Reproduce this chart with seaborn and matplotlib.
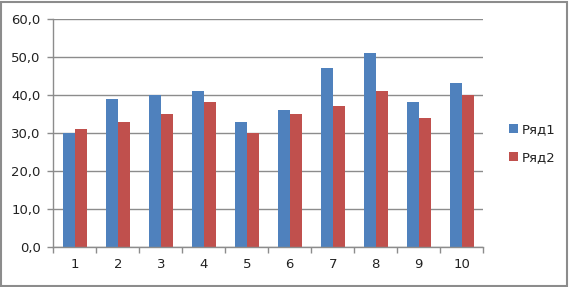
import matplotlib
matplotlib.use("Agg")
import matplotlib.pyplot as plt
import seaborn as sns
import pandas as pd
from matplotlib.patches import Rectangle
from matplotlib.ticker import FixedLocator, FuncFormatter

categories = ["1", "2", "3", "4", "5", "6", "7", "8", "9", "10"]
series1 = [30, 39, 40, 41, 33, 36, 47, 51, 38, 43]
series2 = [31, 33, 35, 38, 30, 35, 37, 41, 34, 40]
series_names = ["Ряд1", "Ряд2"]
y_ticks = [0, 10, 20, 30, 40, 50, 60]

df = pd.DataFrame({
    "cat": categories * 2,
    "value": series1 + series2,
    "series": [series_names[0]] * len(categories) + [series_names[1]] * len(categories),
})

sns.set_style("white")
plt.rcParams["font.family"] = ["DejaVu Sans"]

W, H = 570, 287
fig = plt.figure(figsize=(W / 100, H / 100), dpi=100)
ax = fig.add_axes([53.3 / W, (H - 247.3) / H, 430 / W, 228.7 / H])

sns.barplot(data=df, x="cat", y="value", hue="series", order=categories,
            hue_order=series_names, palette=["#4F81BD", "#C0504D"],
            width=0.57, gap=0, ax=ax, legend=True, linewidth=0, saturation=1)

ax.set_xlim(-0.5, len(categories) - 0.5)
ax.set_ylim(0, 60)
ax.set_yticks(y_ticks)
ax.yaxis.set_major_formatter(FuncFormatter(lambda v, p: f"{v:.1f}".replace(".", ",")))
ax.set_xlabel("")
ax.set_ylabel("")
ax.grid(axis="y", color="#8c8c8c", linewidth=1)
ax.set_axisbelow(True)
for s in ["top", "right"]:
    ax.spines[s].set_visible(False)
for s in ["left", "bottom"]:
    ax.spines[s].set_color("#8c8c8c")
    ax.spines[s].set_linewidth(1)

ax.tick_params(axis="y", length=4, width=1, color="#8c8c8c", direction="out",
               labelsize=9.5, labelcolor="#222222", pad=5, left=True)
ax.tick_params(axis="x", which="major", length=0, labelsize=9.5, labelcolor="#222222", pad=8)
ax.xaxis.set_minor_locator(FixedLocator([i - 0.5 for i in range(len(categories) + 1)]))
ax.tick_params(axis="x", which="minor", length=4, width=1, color="#8c8c8c", direction="out", bottom=True)

handles, labels = ax.get_legend_handles_labels()
ax.legend(handles, labels, loc="center left", bbox_to_anchor=(497 / W, 0.5),
          bbox_transform=fig.transFigure, frameon=False, fontsize=9.5,
          handlelength=0.7, handleheight=0.7, handletextpad=0.3, labelspacing=1.1,
          labelcolor="#222222")

fig.patches.append(Rectangle((1 / W, 1 / H), (W - 4) / W, (H - 3) / H,
                             transform=fig.transFigure, fill=False,
                             edgecolor="#8c8c8c", linewidth=1.5))

fig.savefig("out.png", dpi=100)
